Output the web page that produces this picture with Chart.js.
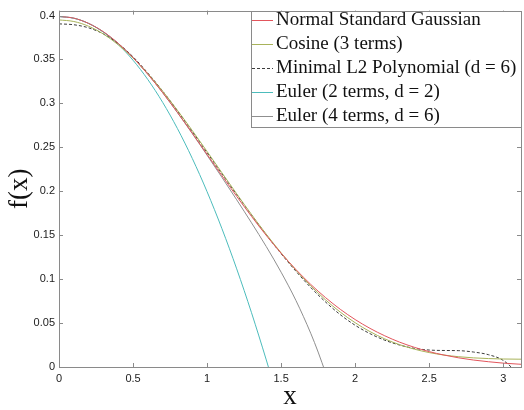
<!DOCTYPE html>
<html>
<head>
<meta charset="utf-8">
<script src="https://cdn.jsdelivr.net/npm/chart.js@4/dist/chart.umd.min.js"></script>
<style>
  html, body { margin: 0; padding: 0; background: #fff; }
  #wrap { width: 524px; height: 410px; }
</style>
</head>
<body>
<div id="wrap"><canvas id="chart" width="524" height="410"></canvas></div>
<script>
// x samples shared by the smooth curves
const xGrid = [0, 0.1, 0.2, 0.3, 0.4, 0.5, 0.6, 0.7, 0.8, 0.9, 1.0, 1.1, 1.2, 1.3, 1.4, 1.5,
  1.6, 1.7, 1.8, 1.9, 2.0, 2.1, 2.2, 2.3, 2.4, 2.5, 2.6, 2.7, 2.8, 2.9, 3.0, 3.1, 3.12];

const gaussian = [0.3989, 0.3970, 0.3910, 0.3814, 0.3683, 0.3521, 0.3332, 0.3123, 0.2897, 0.2661,
  0.2420, 0.2179, 0.1942, 0.1714, 0.1497, 0.1295, 0.1109, 0.0940, 0.0790, 0.0656, 0.0540,
  0.0440, 0.0355, 0.0283, 0.0224, 0.0175, 0.0136, 0.0104, 0.0079, 0.0060, 0.0044, 0.0033, 0.0031];

const cosine3 = [0.3950, 0.3932, 0.3878, 0.3789, 0.3667, 0.3516, 0.3338, 0.3139, 0.2921, 0.2691,
  0.2453, 0.2211, 0.1971, 0.1736, 0.1511, 0.1299, 0.1102, 0.0924, 0.0764, 0.0624, 0.0504,
  0.0403, 0.0320, 0.0254, 0.0203, 0.0164, 0.0136, 0.0117, 0.0104, 0.0096, 0.0091, 0.0089, 0.0089];

const polyL2 = [0.3905, 0.3895, 0.3860, 0.3790, 0.3680, 0.3530, 0.3345, 0.3140, 0.2915, 0.2680,
  0.2440, 0.2200, 0.1962, 0.1730, 0.1505, 0.1290, 0.1090, 0.0905, 0.0740, 0.0595, 0.0475,
  0.0380, 0.0305, 0.0250, 0.0212, 0.0193, 0.0188, 0.0186, 0.0170, 0.0140, 0.0075, -0.0080, -0.0120];

const xEuler2 = [0, 0.1, 0.2, 0.3, 0.4, 0.5, 0.6, 0.7, 0.8, 0.9, 1.0, 1.1, 1.2, 1.3, 1.4, 1.45];
const euler2 = [0.3989, 0.3969, 0.3910, 0.3810, 0.3670, 0.3491, 0.3271, 0.3012, 0.2713, 0.2374,
  0.1995, 0.1576, 0.1117, 0.0618, 0.0080, -0.0204];

const xEuler4 = [0, 0.1, 0.2, 0.3, 0.4, 0.5, 0.6, 0.7, 0.8, 0.9, 1.0, 1.1, 1.2, 1.3, 1.4, 1.5,
  1.6, 1.7, 1.75, 1.8];
const euler4 = [0.3989, 0.3970, 0.3910, 0.3814, 0.3683, 0.3521, 0.3332, 0.3122, 0.2895, 0.2657,
  0.2410, 0.2159, 0.1903, 0.1641, 0.1370, 0.1079, 0.0757, 0.0384, 0.0170, -0.0065];

const labels = ['Normal Standard Gaussian', 'Cosine (3 terms)', 'Minimal L2 Polynomial (d = 6)',
  'Euler (2 terms, d = 2)', 'Euler (4 terms, d = 6)'];

const pts = (xs, ys) => xs.map((x, i) => ({ x: x, y: ys[i] }));

function series(label, data, color, dash) {
  return {
    label: label,
    data: data,
    borderColor: color,
    borderWidth: 1,
    borderDash: dash || [],
    pointRadius: 0,
    fill: false,
    cubicInterpolationMode: 'monotone'
  };
}

// inward ticks on all four sides plus the axes box
const boxTicks = {
  id: 'boxTicks',
  afterDatasetsDraw(chart) {
    const { ctx, chartArea: a, scales } = chart;
    ctx.save();
    ctx.strokeStyle = '#8a8a8a';
    ctx.lineWidth = 1;
    ctx.beginPath();
    scales.x.ticks.forEach(t => {
      const px = Math.round(scales.x.getPixelForValue(t.value)) + 0.5;
      ctx.moveTo(px, a.bottom); ctx.lineTo(px, a.bottom - 4);
      ctx.moveTo(px, a.top); ctx.lineTo(px, a.top + 4);
    });
    scales.y.ticks.forEach(t => {
      const py = Math.round(scales.y.getPixelForValue(t.value)) + 0.5;
      ctx.moveTo(a.left, py); ctx.lineTo(a.left + 4, py);
      ctx.moveTo(a.right, py); ctx.lineTo(a.right - 4, py);
    });
    ctx.stroke();
    ctx.strokeRect(Math.round(a.left) + 0.5, Math.round(a.top) + 0.5,
      Math.round(a.right - a.left), Math.round(a.bottom - a.top));
    ctx.restore();
  }
};

// MATLAB style legend box in the upper right corner
const boxLegend = {
  id: 'boxLegend',
  afterDraw(chart) {
    const { ctx, chartArea: a } = chart;
    const left = 251, top = Math.round(a.top), right = Math.round(a.right), bottom = 127;
    ctx.save();
    ctx.fillStyle = '#fff';
    ctx.fillRect(left, top, right - left, bottom - top);
    ctx.strokeStyle = '#8a8a8a';
    ctx.lineWidth = 1;
    ctx.strokeRect(left + 0.5, top + 0.5, right - left, bottom - top);
    ctx.font = '19px "Liberation Serif", "Times New Roman", serif';
    ctx.textBaseline = 'middle';
    chart.data.datasets.forEach((ds, i) => {
      const y = 20 + i * 24;
      ctx.strokeStyle = ds.borderColor;
      ctx.setLineDash(ds.borderDash);
      ctx.beginPath();
      ctx.moveTo(left + 1, y + 0.5);
      ctx.lineTo(left + 22, y + 0.5);
      ctx.stroke();
      ctx.setLineDash([]);
      ctx.fillStyle = '#111';
      ctx.fillText(ds.label, left + 25, y);
    });
    ctx.restore();
  }
};

const tickFont = { family: '"Liberation Sans", Arial, sans-serif', size: 11 };
const titleFont = { family: '"Liberation Serif", "Times New Roman", serif', size: 27, lineHeight: 1 };
const fmt = v => String(+Number(v).toFixed(2));

new Chart(document.getElementById('chart').getContext('2d'), {
  type: 'line',
  data: {
    datasets: [
      series(labels[0], pts(xGrid, gaussian), '#e2555c'),
      series(labels[1], pts(xGrid, cosine3), '#a8b35a'),
      series(labels[2], pts(xGrid, polyL2), '#3c3c3c', [3, 2]),
      series(labels[3], pts(xEuler2, euler2), '#4cbcbc'),
      series(labels[4], pts(xEuler4, euler4), '#8f8f8f')
    ]
  },
  options: {
    responsive: false,
    animation: false,
    layout: { padding: { left: 0, right: 3, top: 4, bottom: 0 } },
    plugins: {
      legend: { display: false },
      tooltip: { enabled: false }
    },
    scales: {
      x: {
        type: 'linear',
        min: 0,
        max: 3.12,
        grid: { display: false, drawTicks: false },
        border: { display: false },
        ticks: { stepSize: 0.5, includeBounds: false, autoSkip: false, maxRotation: 0,
                 padding: 5, color: '#222', font: tickFont, callback: fmt },
        title: { display: true, text: 'x', color: '#111', font: titleFont, padding: { top: 0, bottom: 0 } },
        afterFit(scale) { scale.height = 43; }
      },
      y: {
        min: 0,
        max: 0.4056,
        grid: { display: false, drawTicks: false },
        border: { display: false },
        ticks: { stepSize: 0.05, includeBounds: false, autoSkip: false,
                 padding: 4, color: '#222', font: tickFont, callback: fmt },
        title: { display: true, text: 'f(x)', color: '#111', font: titleFont, padding: { top: 6, bottom: 0 } },
        afterFit(scale) { scale.width = 59; }
      }
    }
  },
  plugins: [boxTicks, boxLegend]
});
</script>
</body>
</html>
